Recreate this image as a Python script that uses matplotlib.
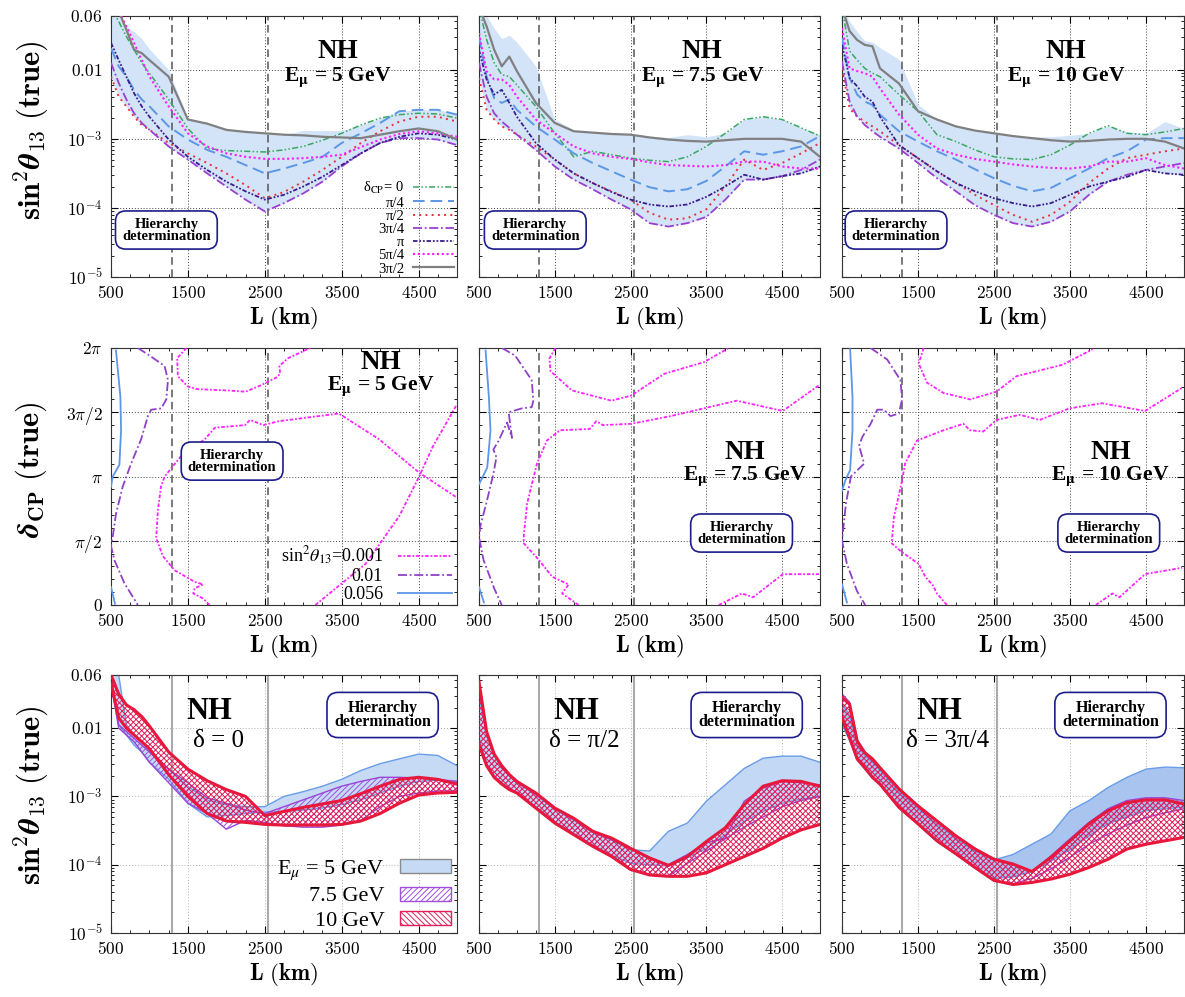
import numpy as np
import matplotlib.pyplot as plt
from matplotlib.ticker import MultipleLocator, LogLocator, NullFormatter
from matplotlib.patches import Patch

plt.rcParams['font.family'] = ['Liberation Serif', 'DejaVu Serif']
plt.rcParams['mathtext.fontset'] = 'cm'
plt.rcParams['hatch.linewidth'] = 0.7

# baseline grid (km) shared by all log-scale curves
L_km = [500, 600, 700, 800, 900, 1000, 1250, 1500, 1750, 2000, 2250, 2500,
        2750, 3000, 3250, 3500, 3750, 4000, 4250, 4500, 4750, 5000]
detectors = [1290, 2540]
x_ticks = [500, 1500, 2500, 3500, 4500]

# ---- top row: log10 sin^2(theta13) reach for each true delta_CP ----
delta_labels = ['δ$_{\\rm CP}$= 0', 'π/4', 'π/2', '3π/4', 'π', '5π/4', '3π/2']

t5_d0 = [-1.10, -1.30, -1.52, -1.71, -1.90, -2.05, -2.43, -2.85, -3.14, -3.17, -3.18, -3.19, -3.16, -3.11, -3.02, -2.92, -2.80, -2.70, -2.65, -2.63, -2.64, -2.70]
t5_p4 = [-1.69, -1.95, -2.10, -2.29, -2.43, -2.53, -2.82, -3.01, -3.16, -3.26, -3.38, -3.50, -3.43, -3.35, -3.26, -3.06, -2.92, -2.77, -2.60, -2.58, -2.58, -2.65]
t5_p2 = [-2.10, -2.39, -2.53, -2.68, -2.80, -2.87, -3.06, -3.21, -3.35, -3.50, -3.67, -3.86, -3.77, -3.62, -3.45, -3.26, -3.06, -2.89, -2.75, -2.68, -2.68, -2.75]
t5_3p4 = [-1.90, -2.19, -2.43, -2.63, -2.77, -2.87, -3.11, -3.30, -3.50, -3.69, -3.88, -4.05, -3.93, -3.79, -3.62, -3.40, -3.21, -3.06, -2.99, -2.99, -3.01, -3.09]
t5_pi = [-1.61, -1.86, -2.10, -2.34, -2.53, -2.68, -3.01, -3.26, -3.45, -3.62, -3.76, -3.88, -3.81, -3.69, -3.55, -3.38, -3.21, -3.06, -2.97, -2.92, -2.94, -3.01]
t5_5p4 = [-1.00, -1.15, -1.37, -1.61, -1.86, -2.10, -2.53, -2.92, -3.11, -3.21, -3.26, -3.29, -3.29, -3.28, -3.26, -3.23, -3.12, -3.01, -2.93, -2.89, -2.92, -2.97]
t5_3p2 = [-1.00, -1.15, -1.42, -1.71, -1.76, -1.86, -2.10, -2.72, -2.78, -2.87, -2.90, -2.92, -2.94, -2.95, -2.97, -2.98, -2.99, -2.94, -2.89, -2.85, -2.89, -3.01]
t5_band = [-1.22, -1.22, -1.40, -1.45, -1.55, -1.70, -2.00, -2.72, -2.78, -2.87, -2.90, -2.92, -2.94, -2.88, -2.88, -2.88, -2.83, -2.70, -2.62, -2.58, -2.58, -2.63]

t75_d0 = [-1.10, -1.56, -1.90, -2.07, -2.10, -2.22, -2.53, -2.92, -3.26, -3.18, -3.23, -3.28, -3.31, -3.33, -3.26, -3.11, -2.92, -2.72, -2.68, -2.72, -2.84, -2.96]
t75_p4 = [-1.52, -2.10, -2.41, -2.48, -2.43, -2.58, -2.82, -3.01, -3.21, -3.35, -3.47, -3.59, -3.70, -3.76, -3.73, -3.61, -3.40, -3.18, -3.23, -3.18, -3.11, -2.96]
t75_p2 = [-2.12, -2.58, -2.72, -2.82, -2.87, -2.94, -3.11, -3.30, -3.50, -3.64, -3.76, -3.88, -4.07, -4.17, -4.15, -4.02, -3.69, -3.30, -3.45, -3.35, -3.21, -3.06]
t75_3p4 = [-1.90, -2.39, -2.63, -2.75, -2.84, -2.94, -3.16, -3.40, -3.59, -3.73, -3.88, -4.02, -4.22, -4.27, -4.22, -4.13, -3.88, -3.59, -3.59, -3.54, -3.45, -3.30]
t75_pi = [-1.71, -2.14, -2.36, -2.29, -2.48, -2.68, -3.06, -3.30, -3.50, -3.64, -3.77, -3.88, -3.95, -3.98, -3.95, -3.84, -3.69, -3.52, -3.59, -3.54, -3.50, -3.40]
t75_5p4 = [-1.47, -2.02, -2.14, -2.14, -2.22, -2.39, -2.72, -2.92, -3.11, -3.21, -3.26, -3.29, -3.34, -3.38, -3.39, -3.40, -3.38, -3.33, -3.33, -3.40, -3.43, -3.43]
t75_3p2 = [-1.10, -1.37, -1.71, -1.95, -1.81, -2.02, -2.48, -2.77, -2.89, -2.91, -2.93, -2.94, -2.98, -3.01, -3.03, -3.04, -3.02, -3.00, -3.00, -3.00, -3.04, -3.26]
t75_band = [-1.22, -1.22, -1.40, -1.55, -1.50, -1.60, -1.95, -2.72, -2.87, -2.90, -2.92, -2.93, -2.96, -2.98, -2.94, -2.97, -2.92, -2.72, -2.68, -2.72, -2.84, -2.94]

t10_d0 = [-1.10, -1.73, -1.86, -1.98, -2.05, -2.10, -2.36, -2.60, -2.94, -3.04, -3.16, -3.26, -3.29, -3.30, -3.23, -3.09, -2.92, -2.81, -2.92, -2.94, -2.90, -2.85]
t10_p4 = [-1.54, -2.12, -2.36, -2.46, -2.51, -2.65, -2.89, -3.04, -3.18, -3.30, -3.44, -3.57, -3.68, -3.76, -3.71, -3.57, -3.43, -3.28, -3.18, -3.01, -2.99, -2.99]
t10_p2 = [-1.98, -2.56, -2.68, -2.75, -2.82, -2.89, -3.09, -3.28, -3.47, -3.64, -3.81, -3.96, -4.10, -4.20, -4.10, -3.91, -3.64, -3.43, -3.28, -3.23, -3.18, -3.14]
t10_3p4 = [-1.88, -2.46, -2.68, -2.80, -2.89, -2.97, -3.14, -3.35, -3.57, -3.76, -3.96, -4.10, -4.22, -4.27, -4.20, -4.05, -3.81, -3.62, -3.52, -3.45, -3.40, -3.35]
t10_pi = [-1.64, -2.12, -2.24, -2.39, -2.46, -2.68, -3.09, -3.28, -3.47, -3.64, -3.76, -3.86, -3.93, -3.98, -3.93, -3.81, -3.69, -3.62, -3.55, -3.45, -3.50, -3.52]
t10_5p4 = [-1.40, -1.98, -2.02, -2.05, -2.10, -2.27, -2.65, -2.94, -3.14, -3.23, -3.29, -3.33, -3.37, -3.40, -3.42, -3.43, -3.40, -3.33, -3.33, -3.28, -3.38, -3.43]
t10_3p2 = [-1.10, -1.44, -1.57, -1.64, -1.66, -1.98, -2.20, -2.60, -2.72, -2.82, -2.88, -2.92, -2.96, -2.99, -3.02, -3.04, -3.03, -3.01, -3.00, -3.00, -3.04, -3.14]
t10_band = [-1.22, -1.30, -1.45, -1.58, -1.60, -1.68, -1.85, -2.50, -2.72, -2.82, -2.88, -2.92, -2.96, -2.97, -2.97, -2.95, -2.92, -2.81, -2.90, -2.92, -2.75, -2.85]

# ---- middle row: contours in (L, delta_CP / pi) ----
m5_056a_L = [565, 622, 631, 609, 522, 500]
m5_056a_d = [1.98, 1.62, 1.36, 1.09, 1.00, 0.92]
m5_056b_L = [500, 552]
m5_056b_d = [0.14, 0.01]
m5_01_L = [849, 980, 1197, 1241, 1219, 1154, 1023, 980, 892, 761, 652, 565, 522, 500, 544, 674, 849]
m5_01_d = [2.0, 1.95, 1.86, 1.75, 1.60, 1.53, 1.52, 1.47, 1.29, 1.10, 0.92, 0.71, 0.53, 0.46, 0.35, 0.17, 0.0]
m5_001a_L = [1480, 1360, 1370, 1500, 1620, 2000, 2250, 2450, 2650, 2700, 2690, 2800, 3090]
m5_001a_d = [2.0, 1.92, 1.78, 1.70, 1.68, 1.67, 1.66, 1.71, 1.77, 1.80, 1.86, 1.92, 2.0]
m5_001b_L = [1780, 1700, 1570, 1589, 1698, 1589, 1328, 1175, 1088, 1110, 1150, 1197, 1400, 1720, 1851,
             2243, 2308, 2482, 2678, 2940, 3463, 3986, 4508, 4988]
m5_001b_d = [0.0, 0.05, 0.09, 0.13, 0.16, 0.18, 0.27, 0.38, 0.52, 0.74, 0.92, 1.0, 1.15, 1.29, 1.38,
             1.40, 1.44, 1.40, 1.43, 1.45, 1.49, 1.29, 1.03, 0.84]
m5_001c_L = [3158, 3811, 4247, 4508, 4683, 4988]
m5_001c_d = [0.0, 0.32, 0.69, 1.0, 1.23, 1.55]

m75_056a_L = [587, 630, 652, 609, 543, 500]
m75_056a_d = [1.98, 1.62, 1.36, 1.07, 0.99, 0.94]
m75_056b_L = [500, 565]
m75_056b_d = [0.14, 0.02]
m75_01_L = [804, 978, 1196, 1217, 1196, 1065, 891, 935, 870, 760, 690, 730, 690, 600, 520, 500, 560, 700, 800]
m75_01_d = [2.0, 1.94, 1.75, 1.59, 1.54, 1.53, 1.50, 1.30, 1.42, 1.28, 1.21, 1.15, 1.02, 0.80, 0.62, 0.53, 0.35, 0.13, 0.0]
m75_001a_L = [1509, 1430, 1443, 1726, 2248, 2509, 2948, 3470, 3796]
m75_001a_d = [2.0, 1.92, 1.82, 1.67, 1.59, 1.63, 1.80, 1.89, 2.0]
m75_001b_L = [1813, 1596, 1683, 1465, 1291, 1091, 1091, 1135, 1265, 1396, 1570, 1961, 2048, 2135, 2509, 3030, 3900, 4509, 4987]
m75_001b_d = [0.0, 0.09, 0.16, 0.22, 0.35, 0.48, 0.54, 0.79, 1.10, 1.28, 1.36, 1.37, 1.43, 1.40, 1.41, 1.47, 1.59, 1.51, 1.71]
m75_001c_L = [3665, 3970, 4117, 4509, 4987]
m75_001c_d = [0.0, 0.09, 0.06, 0.24, 0.24]

m10_056a_L = [607, 638, 638, 607, 544, 500]
m10_056a_d = [1.99, 1.62, 1.36, 1.05, 0.97, 0.89]
m10_056b_L = [500, 565]
m10_056b_d = [0.16, 0.02]
m10_01_L = [877, 1095, 1269, 1291, 1247, 1138, 1051, 964, 877, 769, 725, 791, 617, 552, 500, 565, 696, 805]
m10_01_d = [2.0, 1.91, 1.75, 1.60, 1.49, 1.47, 1.52, 1.52, 1.41, 1.31, 1.24, 1.10, 1.0, 0.79, 0.50, 0.32, 0.11, 0.0]
m10_001a_L = [1574, 1509, 1618, 1836, 2184, 2533, 2794, 3404, 3796]
m10_001a_d = [2.0, 1.88, 1.73, 1.65, 1.60, 1.66, 1.78, 1.87, 1.99]
m10_001b_L = [1879, 1748, 1700, 1596, 1509, 1269, 1154, 1182, 1291, 1330, 1487, 1836, 2097, 2184, 2358,
              2533, 2838, 3099, 3491, 3920, 4487, 4975]
m10_001b_d = [0.0, 0.09, 0.15, 0.22, 0.32, 0.42, 0.48, 0.68, 0.97, 1.10, 1.28, 1.36, 1.41, 1.36, 1.35,
              1.44, 1.48, 1.44, 1.53, 1.57, 1.51, 1.69]
m10_001c_L = [3840, 4058, 4150, 4487, 4975]
m10_001c_d = [0.0, 0.09, 0.06, 0.24, 0.29]

# ---- bottom row: log10 sin^2(theta13) bands for three muon energies ----
b0_5_hi = [-1.22, -1.22, -1.95, -2.10, -2.20, -2.35, -2.60, -2.85, -3.05, -3.12, -3.15, -3.15, -3.00, -2.93, -2.85, -2.75, -2.62, -2.52, -2.45, -2.38, -2.40, -2.55]
b0_5_lo = [-1.35, -1.95, -2.10, -2.25, -2.35, -2.50, -2.75, -3.10, -3.30, -3.28, -3.25, -3.23, -3.22, -3.20, -3.17, -3.12, -3.05, -2.95, -2.85, -2.78, -2.76, -2.78]
b0_75_hi = [-1.22, -1.95, -2.05, -2.15, -2.25, -2.35, -2.60, -2.80, -3.02, -3.10, -3.20, -3.25, -3.15, -3.05, -2.95, -2.85, -2.78, -2.72, -2.72, -2.73, -2.75, -2.78]
b0_75_lo = [-1.35, -2.00, -2.10, -2.20, -2.35, -2.50, -2.80, -3.10, -3.25, -3.48, -3.35, -3.38, -3.43, -3.45, -3.45, -3.42, -3.35, -3.15, -3.00, -2.95, -2.92, -2.92]
b0_10_hi = [-1.22, -1.50, -1.66, -1.73, -1.83, -1.97, -2.35, -2.60, -2.77, -2.90, -3.00, -3.28, -3.22, -3.16, -3.11, -3.06, -2.96, -2.85, -2.75, -2.72, -2.75, -2.82]
b0_10_lo = [-1.35, -1.85, -2.00, -2.10, -2.20, -2.30, -2.68, -3.00, -3.25, -3.36, -3.38, -3.41, -3.42, -3.42, -3.42, -3.41, -3.36, -3.25, -3.10, -2.98, -2.95, -2.94]

b2_5_hi = [-1.50, -2.10, -2.40, -2.57, -2.70, -2.80, -2.98, -3.19, -3.35, -3.53, -3.64, -3.78, -3.80, -3.51, -3.39, -3.07, -2.83, -2.59, -2.44, -2.41, -2.41, -2.50]
b2_5_lo = [-2.15, -2.52, -2.70, -2.80, -2.88, -2.94, -3.15, -3.37, -3.54, -3.71, -3.86, -3.98, -4.00, -4.02, -3.90, -3.76, -3.56, -3.37, -3.22, -3.10, -3.04, -3.00]
b2_75_hi = [-1.45, -2.07, -2.39, -2.56, -2.69, -2.79, -2.96, -3.18, -3.33, -3.52, -3.63, -3.77, -3.90, -4.00, -3.85, -3.68, -3.61, -3.07, -2.88, -2.78, -2.80, -2.83]
b2_75_lo = [-2.20, -2.54, -2.71, -2.81, -2.89, -2.95, -3.16, -3.38, -3.55, -3.72, -3.87, -4.06, -4.14, -4.17, -3.98, -3.80, -3.62, -3.45, -3.30, -3.15, -3.06, -3.00]
b2_10_hi = [-1.32, -2.05, -2.38, -2.55, -2.68, -2.78, -2.95, -3.17, -3.32, -3.51, -3.61, -3.76, -3.90, -4.01, -3.88, -3.66, -3.46, -3.12, -2.85, -2.77, -2.78, -2.85]
b2_10_lo = [-2.24, -2.55, -2.72, -2.82, -2.90, -2.95, -3.17, -3.39, -3.56, -3.73, -3.88, -4.07, -4.15, -4.17, -4.17, -4.12, -4.00, -3.88, -3.76, -3.61, -3.49, -3.41]

b3_5_hi = [-1.65, -1.80, -2.25, -2.40, -2.50, -2.62, -2.93, -3.18, -3.40, -3.62, -3.80, -3.93, -3.85, -3.70, -3.55, -3.21, -3.06, -2.87, -2.72, -2.60, -2.57, -2.58]
b3_5_lo = [-1.95, -2.18, -2.47, -2.60, -2.73, -2.83, -3.17, -3.41, -3.66, -3.85, -4.05, -4.20, -4.18, -4.10, -3.95, -3.78, -3.58, -3.40, -3.30, -3.21, -3.18, -3.16]
b3_75_hi = [-1.50, -1.62, -2.17, -2.35, -2.44, -2.57, -2.88, -3.13, -3.35, -3.57, -3.76, -3.92, -4.00, -4.10, -3.87, -3.62, -3.38, -3.18, -3.06, -3.02, -3.02, -3.06]
b3_75_lo = [-1.90, -2.16, -2.46, -2.59, -2.73, -2.83, -3.17, -3.41, -3.66, -3.85, -4.05, -4.24, -4.28, -4.20, -4.06, -3.89, -3.70, -3.55, -3.42, -3.31, -3.24, -3.18]
b3_10_hi = [-1.55, -1.65, -2.19, -2.36, -2.45, -2.58, -2.89, -3.14, -3.36, -3.58, -3.77, -3.92, -3.99, -4.10, -3.89, -3.65, -3.40, -3.21, -3.09, -3.05, -3.05, -3.11]
b3_10_lo = [-1.84, -2.14, -2.45, -2.58, -2.72, -2.82, -3.16, -3.40, -3.65, -3.84, -4.04, -4.23, -4.29, -4.26, -4.21, -4.14, -4.04, -3.92, -3.77, -3.70, -3.65, -3.60]

top_panels = [
    ('E$_{\\mathbf{\\mu}}$ = 5 GeV', [t5_d0, t5_p4, t5_p2, t5_3p4, t5_pi, t5_5p4, t5_3p2], t5_band),
    ('E$_{\\mathbf{\\mu}}$ = 7.5 GeV', [t75_d0, t75_p4, t75_p2, t75_3p4, t75_pi, t75_5p4, t75_3p2], t75_band),
    ('E$_{\\mathbf{\\mu}}$ = 10 GeV', [t10_d0, t10_p4, t10_p2, t10_3p4, t10_pi, t10_5p4, t10_3p2], t10_band),
]
delta_styles = [
    dict(color='#3aa860', ls=(0, (4, 1.5, 1, 1.5, 1, 1.5)), lw=1.1),
    dict(color='#5b97e6', ls=(0, (6, 3)), lw=1.4),
    dict(color='#e8303a', ls=(0, (1, 2.2)), lw=1.4),
    dict(color='#9a40d0', ls=(0, (5, 1.5, 1, 1.5)), lw=1.3),
    dict(color='#3b1e8c', ls=(0, (2.5, 1, 1, 1, 1, 1)), lw=1.3),
    dict(color='#ff1aff', ls=(0, (1, 1.3)), lw=1.5),
    dict(color='#808080', ls='-', lw=1.6),
]

mid_panels = [
    ('E$_{\\mathbf{\\mu}}$ = 5 GeV',
     [(m5_001a_L, m5_001a_d), (m5_001b_L, m5_001b_d), (m5_001c_L, m5_001c_d)],
     [(m5_01_L, m5_01_d)], [(m5_056a_L, m5_056a_d), (m5_056b_L, m5_056b_d)]),
    ('E$_{\\mathbf{\\mu}}$ = 7.5 GeV',
     [(m75_001a_L, m75_001a_d), (m75_001b_L, m75_001b_d), (m75_001c_L, m75_001c_d)],
     [(m75_01_L, m75_01_d)], [(m75_056a_L, m75_056a_d), (m75_056b_L, m75_056b_d)]),
    ('E$_{\\mathbf{\\mu}}$ = 10 GeV',
     [(m10_001a_L, m10_001a_d), (m10_001b_L, m10_001b_d), (m10_001c_L, m10_001c_d)],
     [(m10_01_L, m10_01_d)], [(m10_056a_L, m10_056a_d), (m10_056b_L, m10_056b_d)]),
]
contour_styles = [
    dict(color='#ff22ff', ls=(0, (2, 1, 1, 1)), lw=1.3),
    dict(color='#9040c8', ls=(0, (5, 1.5, 1, 1.5)), lw=1.3),
    dict(color='#5b96e8', ls='-', lw=1.3),
]
contour_labels = ['sin$^2\\theta_{13}$=0.001', '0.01', '0.056']

bot_panels = [
    ('δ = 0', (b0_5_lo, b0_5_hi), (b0_75_lo, b0_75_hi), (b0_10_lo, b0_10_hi)),
    ('δ = π/2', (b2_5_lo, b2_5_hi), (b2_75_lo, b2_75_hi), (b2_10_lo, b2_10_hi)),
    ('δ = 3π/4', (b3_5_lo, b3_5_hi), (b3_75_lo, b3_75_hi), (b3_10_lo, b3_10_hi)),
]
blue_fill = ['#c6daf6', '#c3d8f5', '#a9c4ef']
energy_labels = ['E$_\\mu$ = 5 GeV', '7.5 GeV', '10 GeV']

W, H = 1185, 997
col_px = [(111, 457), (479, 820), (842, 1184)]
row_px = [(16, 277), (348, 605), (675, 933)]

fig = plt.figure(figsize=(W / 100, H / 100), dpi=100)


def add_ax(r, c):
    x0, x1 = col_px[c]
    y0, y1 = row_px[r]
    return fig.add_axes([x0 / W, 1 - y1 / H, (x1 - x0) / W, (y1 - y0) / H])


def style_ax(ax, logy, first, gridcol='#444444'):
    ax.set_xlim(500, 5000)
    ax.set_xticks(x_ticks)
    ax.set_xticklabels(['$%d$' % v for v in x_ticks])
    ax.xaxis.set_minor_locator(MultipleLocator(250))
    if logy:
        ax.set_yscale('log')
        ax.set_ylim(1e-5, 0.06)
        ax.set_yticks([1e-5, 1e-4, 1e-3, 1e-2, 0.06])
        ax.set_yticklabels(['$10^{-5}$', '$10^{-4}$', '$10^{-3}$', '$0.01$', '$0.06$'])
        ax.yaxis.set_minor_locator(LogLocator(10, subs=np.arange(2, 10)))
        ax.yaxis.set_minor_formatter(NullFormatter())
    else:
        ax.set_ylim(0, 2)
        ax.set_yticks([0, 0.5, 1, 1.5, 2])
        ax.set_yticklabels(['$0$', '$\\pi/2$', '$\\pi$', '$3\\pi/2$', '$2\\pi$'])
        ax.yaxis.set_minor_locator(MultipleLocator(0.1))
    ax.tick_params(which='both', direction='in', top=True, right=True, labelsize=12.5, pad=6)
    ax.tick_params(which='major', length=5)
    ax.tick_params(which='minor', length=2.5)
    if not first:
        ax.tick_params(labelleft=False)
    ax.grid(True, which='major', ls=(0, (1, 2)), color=gridcol, lw=0.7)
    ax.set_axisbelow(True)
    for s in ax.spines.values():
        s.set_color('#333333')
    ax.set_xlabel('$\\mathbf{L\\ (km)}$', fontsize=16.5, labelpad=2)


def hier_box(ax, x, y, fs=10.5):
    ax.text(x, y, 'Hierarchy\ndetermination', transform=ax.transAxes, ha='center', va='center',
            fontsize=fs, fontweight='bold', linespacing=0.9, zorder=20,
            bbox=dict(boxstyle='round,pad=0.45,rounding_size=0.7', fc='white', ec='#1c1c8c', lw=1.2))


def title_txt(ax, x, y, s, fs, bold=True):
    ax.text(x, y, s, transform=ax.transAxes, ha='center', va='center', fontsize=fs,
            fontweight='bold' if bold else 'normal', math_fontfamily='stix', zorder=15)


L = np.array(L_km)

# top row
top_box_x = [0.16, 0.165, 0.158]
for c, (elab, curves, band) in enumerate(top_panels):
    ax = add_ax(0, c)
    style_ax(ax, True, c == 0)
    arr = np.array(curves)
    hi = np.maximum(np.array(band), arr.max(axis=0))
    ax.fill_between(L, 10 ** arr.min(axis=0), 10 ** hi, color='#d3e3f8', lw=0, zorder=1)
    handles = []
    for vals, st in zip(curves, delta_styles):
        h, = ax.plot(L, 10 ** np.array(vals), zorder=3, **st)
        handles.append(h)
    for d in detectors:
        ax.axvline(d, color='#555555', ls=(0, (5, 3)), lw=1.1, zorder=2)
    title_txt(ax, 0.655, 0.865, 'NH', 19.5)
    title_txt(ax, 0.655, 0.765, elab, 15.5)
    hier_box(ax, top_box_x[c], 0.18)
    if c == 0:
        leg = ax.legend(handles, delta_labels, loc='lower right', bbox_to_anchor=(0.995, 0.0),
                        frameon=False, markerfirst=False, fontsize=10.5, handlelength=2.8,
                        handletextpad=0.6, labelspacing=0.0, borderpad=0.1, borderaxespad=0)
        for t in leg.get_texts():
            t.set_math_fontfamily('stix')

# middle row
mid_nh = [(0.78, 0.945, 0.85), (0.78, 0.595, 0.50), (0.785, 0.595, 0.50)]
mid_box = [(0.35, 0.56), (0.77, 0.28), (0.78, 0.28)]
for c, (elab, c001, c01, c056) in enumerate(mid_panels):
    ax = add_ax(1, c)
    style_ax(ax, False, c == 0)
    handles = []
    for group, st in zip([c001, c01, c056], contour_styles):
        for xs, ds in group:
            h, = ax.plot(xs, ds, zorder=3, **st)
        handles.append(h)
    for d in detectors:
        ax.axvline(d, color='#555555', ls=(0, (5, 3)), lw=1.1, zorder=2)
    x, y1, y2 = mid_nh[c]
    title_txt(ax, x, y1, 'NH', 19.5)
    title_txt(ax, x, y2, elab, 15.5)
    hier_box(ax, *mid_box[c])
    if c == 0:
        leg = ax.legend(handles, contour_labels, loc='lower right', bbox_to_anchor=(0.99, 0.0),
                        frameon=False, markerfirst=False, fontsize=13, handlelength=3.0,
                        handletextpad=0.8, labelspacing=0.05, borderpad=0.1, borderaxespad=0)
        for t in leg.get_texts():
            t.set_math_fontfamily('stix')

# bottom row
for c, (dlab, b5, b75, b10) in enumerate(bot_panels):
    ax = add_ax(2, c)
    style_ax(ax, True, c == 0, gridcol='#b0b0b0')
    for d in detectors:
        ax.axvline(d, color='#aaaaaa', ls='-', lw=1.5, zorder=0.5)
    lo, hi = 10 ** np.array(b5[0]), 10 ** np.array(b5[1])
    ax.fill_between(L, lo, hi, facecolor=blue_fill[c], edgecolor='none', zorder=1)
    ax.plot(L, lo, color='#6a9de8', lw=1, zorder=1.5)
    ax.plot(L, hi, color='#6a9de8', lw=1, zorder=1.5)
    lo, hi = 10 ** np.array(b75[0]), 10 ** np.array(b75[1])
    ax.fill_between(L, lo, hi, facecolor='none', edgecolor='#a050dd', hatch='//////', lw=0, zorder=2)
    ax.plot(L, lo, color='#9a45d8', lw=1, zorder=2.5)
    ax.plot(L, hi, color='#9a45d8', lw=1, zorder=2.5)
    lo, hi = 10 ** np.array(b10[0]), 10 ** np.array(b10[1])
    ax.fill_between(L, lo, hi, facecolor='none', edgecolor='#e0205a', hatch='xxxxxx', lw=0, zorder=3)
    ax.plot(L, lo, color='#e8173c', lw=2.2, zorder=3.5)
    ax.plot(L, hi, color='#e8173c', lw=2.2, zorder=3.5)
    title_txt(ax, 0.285, 0.857, 'NH', 22)
    title_txt(ax, 0.31, 0.745, dlab, 18, bold=False)
    hier_box(ax, 0.785, 0.845, fs=11.5)
    if c == 0:
        patches = [Patch(facecolor=blue_fill[0], edgecolor='#8a8a8a', lw=1),
                   Patch(facecolor='white', edgecolor='#a050dd', hatch='//////'),
                   Patch(facecolor='white', edgecolor='#e0205a', hatch='\\\\\\\\\\\\')]
        leg = ax.legend(patches, energy_labels, loc='lower right', bbox_to_anchor=(0.99, 0.0),
                        frameon=False, markerfirst=False, fontsize=16, handlelength=2.3,
                        handleheight=0.6, handletextpad=0.7, labelspacing=0.2, borderpad=0.1,
                        borderaxespad=0)
        for t in leg.get_texts():
            t.set_math_fontfamily('stix')

ylab_sin = '$\\mathbf{sin^2}\\boldsymbol{\\theta}_{\\mathbf{13}}\\ \\mathbf{(true)}$'
ylab_dcp = '$\\boldsymbol{\\delta}_{\\mathbf{CP}}\\ \\mathbf{(true)}$'
fig.text(0.026, 1 - 130 / H, ylab_sin, rotation=90, ha='center', va='center', fontsize=22)
fig.text(0.026, 1 - 470 / H, ylab_dcp, rotation=90, ha='center', va='center', fontsize=22)
fig.text(0.026, 1 - 795 / H, ylab_sin, rotation=90, ha='center', va='center', fontsize=22)

fig.savefig('out.png', dpi=100)
